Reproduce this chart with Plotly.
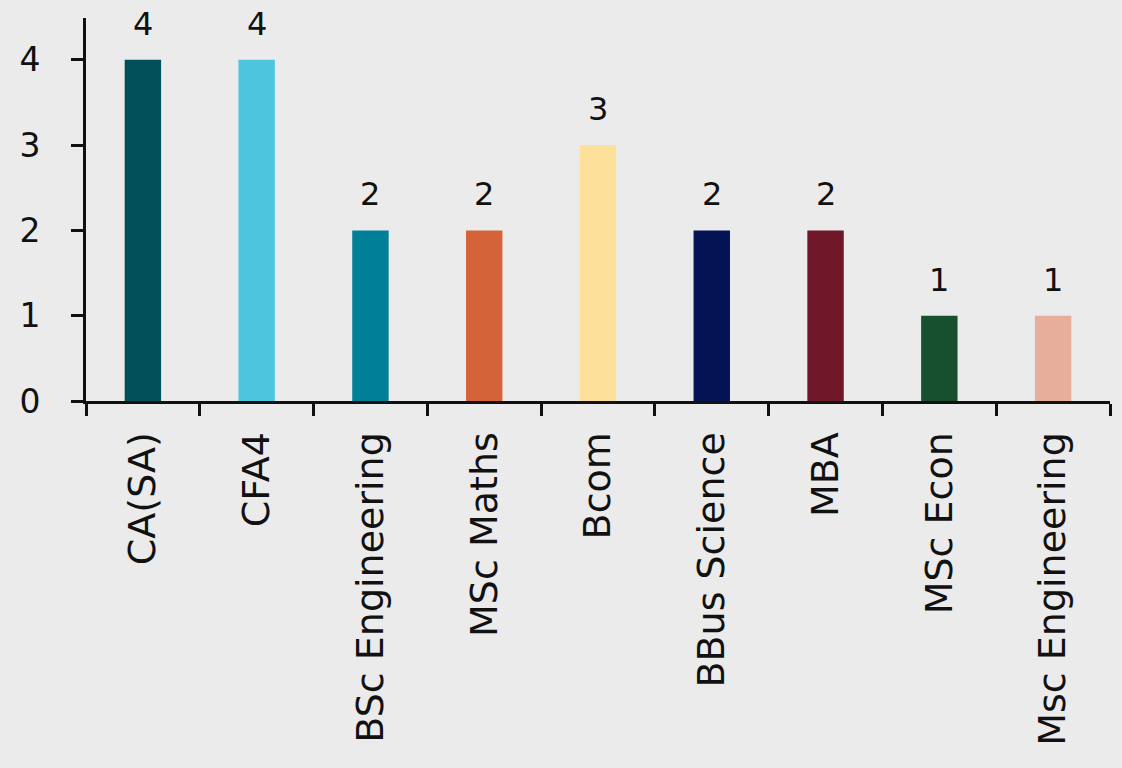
import plotly.graph_objects as go

categories = ["CA(SA)", "CFA4", "BSc Engineering", "MSc Maths", "Bcom",
              "BBus Science", "MBA", "MSc Econ", "Msc Engineering"]
values = [4, 4, 2, 2, 3, 2, 2, 1, 1]
colors = ["#02505a", "#4dc5df", "#007f99", "#d4633a", "#fde09a",
          "#031354", "#6f1728", "#17502e", "#e7ae9b"]
y_ticks = [0, 1, 2, 3, 4]

FONT = "DejaVu Sans"
BG = "#ebebeb"

fig = go.Figure()
fig.add_trace(go.Bar(
    x=categories, y=values, marker=dict(color=colors, line=dict(width=0)),
    width=0.32, showlegend=False, hoverinfo="x+y",
))

for c, v in zip(categories, values):
    fig.add_annotation(x=c, y=v, text=str(v), showarrow=False,
                       yanchor="bottom", yshift=15,
                       font=dict(family=FONT, size=32, color="#111111"))

fig.update_layout(
    width=1122, height=768,
    margin=dict(l=86, r=12, t=18, b=367),
    paper_bgcolor=BG, plot_bgcolor="rgba(0,0,0,0)",
    font=dict(family=FONT, color="#111111"),
)
fig.update_xaxes(
    type="category", range=[-0.5, 8.5], tickson="boundaries",
    showline=True, linecolor="#111111", linewidth=3,
    ticks="outside", ticklen=12, tickwidth=3, tickcolor="#111111",
    tickangle=-90, tickfont=dict(family=FONT, size=38, color="#111111"),
    ticklabelstandoff=13, showgrid=False, automargin=False, zeroline=False,
)
fig.update_yaxes(
    range=[0, 4.49], tickvals=y_ticks, ticktext=[str(t) for t in y_ticks],
    showline=True, linecolor="#111111", linewidth=3,
    ticks="outside", ticklen=12, tickwidth=3, tickcolor="#111111",
    tickfont=dict(family=FONT, size=33, color="#111111"),
    ticklabelstandoff=24, showgrid=False, zeroline=False, automargin=False,
)

fig.write_html(
    "out.html",
    config={"displayModeBar": False},
    post_script="document.body.style.margin='0';document.body.style.overflow='hidden';"
                "document.body.style.background='" + BG + "';",
)
